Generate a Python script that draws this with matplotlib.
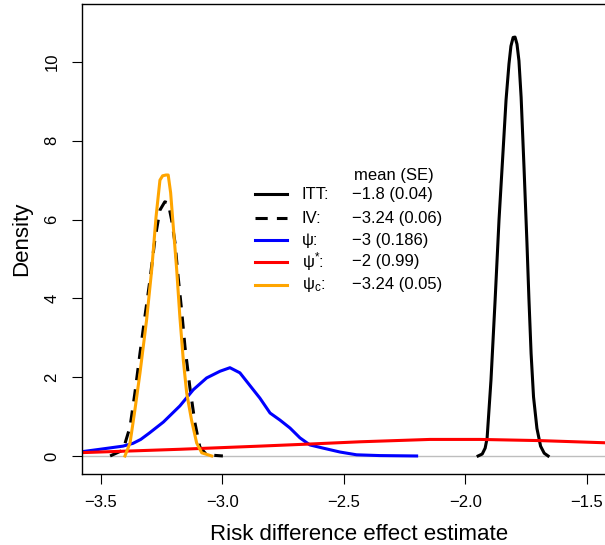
"""
Densites des estimateurs de la difference de risque (ITT, IV, psi, psi*, psi_c).
Figure ecrite dans out.png.
"""
import matplotlib
matplotlib.use("Agg")
import matplotlib.pyplot as plt

plt.rcParams["font.family"] = ["Liberation Sans", "DejaVu Sans"]
plt.rcParams["mathtext.fontset"] = "custom"
plt.rcParams["mathtext.rm"] = "Liberation Sans"
plt.rcParams["mathtext.default"] = "regular"

# --- courbes (x = difference de risque, y = densite) ---
itt_x = [-1.947, -1.930, -1.918, -1.910, -1.894, -1.877, -1.861, -1.844, -1.832,
         -1.820, -1.812, -1.803, -1.795, -1.787, -1.779, -1.770, -1.758, -1.746,
         -1.738, -1.729, -1.719, -1.705, -1.690, -1.675, -1.659]
itt_y = [0.0, 0.05, 0.20, 0.45, 1.93, 3.96, 5.99, 7.77, 9.04, 9.95, 10.40, 10.62,
         10.63, 10.45, 10.03, 9.10, 7.30, 5.40, 4.00, 2.60, 1.50, 0.70, 0.25,
         0.07, 0.0]

iv_x = [-3.461, -3.408, -3.379, -3.359, -3.338, -3.318, -3.297, -3.277, -3.256,
        -3.236, -3.222, -3.208, -3.194, -3.181, -3.167, -3.153, -3.133, -3.112,
        -3.092, -3.064, -2.997]
iv_y = [0.0, 0.15, 0.74, 1.60, 2.61, 3.53, 4.47, 5.48, 6.24, 6.45, 6.42, 5.99,
        5.41, 4.54, 3.71, 2.77, 1.75, 0.84, 0.23, 0.03, 0.0]

psi_x = [-3.60, -3.503, -3.408, -3.367, -3.335, -3.300, -3.242, -3.174, -3.119,
         -3.064, -3.009, -2.968, -2.927, -2.872, -2.845, -2.803, -2.762, -2.721,
         -2.680, -2.639, -2.585, -2.515, -2.447, -2.351, -2.200]
psi_y = [0.09, 0.17, 0.25, 0.32, 0.42, 0.58, 0.86, 1.27, 1.68, 1.98, 2.15, 2.24,
         2.11, 1.68, 1.47, 1.09, 0.91, 0.71, 0.46, 0.28, 0.20, 0.10, 0.03, 0.01,
         0.0]

psis_x = [-3.60, -3.174, -2.845, -2.652, -2.433, -2.145, -1.939, -1.692, -1.40, -1.25]
psis_y = [0.08, 0.17, 0.25, 0.30, 0.36, 0.42, 0.42, 0.39, 0.33, 0.30]

psic_x = [-3.400, -3.379, -3.359, -3.338, -3.311, -3.290, -3.272, -3.256, -3.245,
          -3.231, -3.222, -3.212, -3.201, -3.187, -3.174, -3.160, -3.146, -3.126,
          -3.105, -3.084, -3.043]
psic_y = [0.0, 0.33, 1.17, 2.11, 3.45, 4.72, 6.07, 7.00, 7.11, 7.13, 7.13, 6.68,
          5.81, 4.72, 3.53, 2.44, 1.60, 0.91, 0.33, 0.08, 0.0]

leg_noms = ["ITT:", "IV:", "ψ:", "ψ$^{*}$:", "ψ$_{c}$:"]
leg_valeurs = ["−1.8 (0.04)", "−3.24 (0.06)", "−3 (0.186)", "−2 (0.99)", "−3.24 (0.05)"]
couleurs = ["black", "black", "#0000FF", "#FF0000", "#FFA500"]
styles = ["-", "--", "-", "-", "-"]

x_ticks = [-3.5, -3.0, -2.5, -2.0, -1.5]
y_ticks = [0, 2, 4, 6, 8, 10]


def main():
    fig = plt.figure(figsize=(6.05, 5.45), dpi=100)
    # le cadre depasse a droite de l'image, comme dans l'original (recadre)
    ax = fig.add_axes([0.135, 0.1303, 0.916, 0.8624])
    ax.set_xlim(-3.578, -1.298)
    ax.set_ylim(-0.457, 11.47)

    ax.axhline(0, color="#BEBEBE", lw=1.0, zorder=1)
    lw = 2.2
    courbes = [(itt_x, itt_y), (iv_x, iv_y), (psi_x, psi_y), (psis_x, psis_y), (psic_x, psic_y)]
    for (cx, cy), col, ls in zip(courbes, couleurs, styles):
        ln, = ax.plot(cx, cy, color=col, lw=lw, ls=ls, solid_joinstyle="round", zorder=2)
        if ls == "--":
            ln.set_dashes((4, 3))

    # legende manuelle facon R
    ax.text(-2.293, 7.13, "mean (SE)", fontsize=12, ha="center", va="center")
    rangs = [6.64, 6.03, 5.48, 4.93, 4.34]
    for yy, nom, val, col, ls in zip(rangs, leg_noms, leg_valeurs, couleurs, styles):
        ln, = ax.plot([-2.865, -2.733], [yy, yy], color=col, lw=lw, ls=ls, zorder=3)
        if ls == "--":
            ln.set_dashes((4, 3))
        ax.text(-2.673, yy, nom, fontsize=12, va="center", ha="left")
        ax.text(-2.467, yy, val, fontsize=12, va="center", ha="left")

    ax.set_xticks(x_ticks)
    ax.set_xticklabels([f"{v:.1f}".replace("-", "−") for v in x_ticks])
    ax.set_yticks(y_ticks)
    ax.set_yticklabels([str(v) for v in y_ticks], rotation=90, va="center")
    ax.tick_params(axis="both", labelsize=12, length=7, width=0.8, direction="out")
    ax.tick_params(axis="x", pad=8)
    ax.tick_params(axis="y", pad=9)
    ax.spines["right"].set_visible(False)
    for s in ["left", "bottom", "top"]:
        ax.spines[s].set_linewidth(1.0)

    ax.set_xlabel("Risk difference effect estimate", fontsize=16, labelpad=10)
    ax.set_ylabel("Density", fontsize=16, labelpad=9)

    fig.savefig("out.png", dpi=100)
    plt.close(fig)


if __name__ == "__main__":
    main()
